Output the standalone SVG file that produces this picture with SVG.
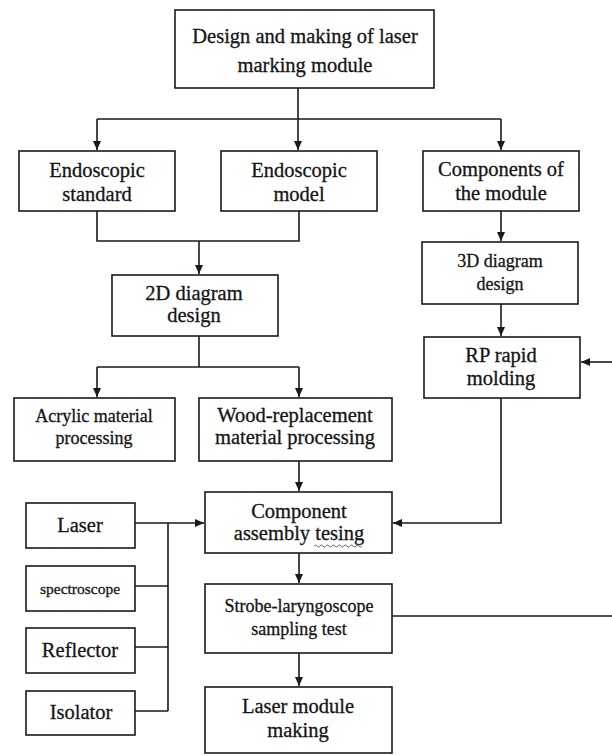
<svg xmlns="http://www.w3.org/2000/svg" width="612" height="755" viewBox="0 0 612 755">
  <style>
    .box { fill: #ffffff; stroke: #1a1a1a; stroke-width: 1.6; }
    .lbl { font-family: "Liberation Serif", "Times New Roman", serif; font-size: 20.5px; fill: #151515; stroke: #151515; stroke-width: 0.3; text-anchor: middle; }
    .s18 { font-size: 18px; }
    .s16 { font-size: 15.5px; }
    .wire { fill: none; stroke: #1a1a1a; stroke-width: 1.6; }
    .squiggle { fill: none; stroke: #555555; stroke-width: 0.9; }
  </style>
  <defs>
    <marker id="arrow" markerUnits="userSpaceOnUse" markerWidth="9" markerHeight="8" refX="9" refY="4" orient="auto">
      <path d="M0,0 L9,4 L0,8 z" fill="#1a1a1a"/>
    </marker>
  </defs>

  <rect x="0" y="0" width="612" height="755" fill="#ffffff"/>

  <!-- connectors -->
  <g id="connectors">
    <path class="wire" d="M298,88 V119 M97,119 H501"/>
    <path class="wire" d="M97,119 V150" marker-end="url(#arrow)"/>
    <path class="wire" d="M298,119 V150" marker-end="url(#arrow)"/>
    <path class="wire" d="M501,119 V150" marker-end="url(#arrow)"/>

    <path class="wire" d="M97,211 V241 H299 V211"/>
    <path class="wire" d="M199,241 V274" marker-end="url(#arrow)"/>

    <path class="wire" d="M501,211 V241" marker-end="url(#arrow)"/>
    <path class="wire" d="M501,304 V336" marker-end="url(#arrow)"/>
    <path class="wire" d="M612,362 H581" marker-end="url(#arrow)"/>

    <path class="wire" d="M199,336 V367 M97,367 H299"/>
    <path class="wire" d="M97,367 V397" marker-end="url(#arrow)"/>
    <path class="wire" d="M299,367 V397" marker-end="url(#arrow)"/>

    <path class="wire" d="M299,461 V491" marker-end="url(#arrow)"/>
    <path class="wire" d="M501,398 V523 H393" marker-end="url(#arrow)"/>

    <path class="wire" d="M135,523 H204" marker-end="url(#arrow)"/>
    <path class="wire" d="M168,523 V711 M135,586 H168 M135,647 H168 M135,711 H168"/>

    <path class="wire" d="M299,553 V583" marker-end="url(#arrow)"/>
    <path class="wire" d="M392,616 H612"/>
    <path class="wire" d="M299,653 V686" marker-end="url(#arrow)"/>
  </g>

  <!-- nodes -->
  <g id="design-making">
    <rect class="box" x="175" y="10" width="259" height="78"/>
    <text class="lbl" x="305" y="43">Design and making of laser</text>
    <text class="lbl" x="305" y="72">marking module</text>
  </g>

  <g id="endoscopic-standard">
    <rect class="box" x="19" y="151" width="156" height="60"/>
    <text class="lbl" x="97" y="177">Endoscopic</text>
    <text class="lbl" x="97" y="201">standard</text>
  </g>

  <g id="endoscopic-model">
    <rect class="box" x="221" y="151" width="156" height="60"/>
    <text class="lbl" x="299" y="177">Endoscopic</text>
    <text class="lbl" x="299" y="201">model</text>
  </g>

  <g id="module-components">
    <rect class="box" x="423" y="151" width="156" height="60"/>
    <text class="lbl" x="501" y="176">Components of</text>
    <text class="lbl" x="501" y="200">the module</text>
  </g>

  <g id="diagram-3d">
    <rect class="box" x="422" y="242" width="156" height="62"/>
    <text class="lbl s18" x="500" y="267">3D diagram</text>
    <text class="lbl s18" x="500" y="290">design</text>
  </g>

  <g id="diagram-2d">
    <rect class="box" x="112" y="275" width="166" height="61"/>
    <text class="lbl" x="194" y="300">2D diagram</text>
    <text class="lbl" x="194" y="322">design</text>
  </g>

  <g id="rp-molding">
    <rect class="box" x="424" y="337" width="156" height="61"/>
    <text class="lbl" x="501" y="362">RP rapid</text>
    <text class="lbl" x="501" y="385">molding</text>
  </g>

  <g id="acrylic-processing">
    <rect class="box" x="14" y="398" width="161" height="63"/>
    <text class="lbl s18" x="94" y="422">Acrylic material</text>
    <text class="lbl s18" x="94" y="444">processing</text>
  </g>

  <g id="wood-processing">
    <rect class="box" x="199" y="398" width="193" height="63"/>
    <text class="lbl" x="295" y="422">Wood-replacement</text>
    <text class="lbl" x="295" y="444">material processing</text>
  </g>

  <g id="assembly-testing">
    <rect class="box" x="205" y="492" width="187" height="61"/>
    <text class="lbl" x="299" y="518">Component</text>
    <text class="lbl" x="299" y="540">assembly tesing</text>
    <path class="squiggle" d="M314,546 q1.5,-2 3,0 t3,0 t3,0 t3,0 t3,0 t3,0 t3,0 t3,0 t3,0 t3,0 t3,0 t3,0 t3,0 t3,0 t3,0 t3,0"/>
  </g>

  <g id="laser">
    <rect class="box" x="26" y="503" width="109" height="45"/>
    <text class="lbl" x="80" y="532">Laser</text>
  </g>

  <g id="spectroscope">
    <rect class="box" x="26" y="566" width="109" height="45"/>
    <text class="lbl s16" x="80" y="594">spectroscope</text>
  </g>

  <g id="reflector">
    <rect class="box" x="26" y="628" width="109" height="45"/>
    <text class="lbl" x="80" y="657">Reflector</text>
  </g>

  <g id="isolator">
    <rect class="box" x="26" y="691" width="109" height="44"/>
    <text class="lbl" x="81" y="719">Isolator</text>
  </g>

  <g id="strobe-test">
    <rect class="box" x="205" y="584" width="187" height="69"/>
    <text class="lbl s18" x="299" y="612">Strobe-laryngoscope</text>
    <text class="lbl s18" x="299" y="635">sampling test</text>
  </g>

  <g id="laser-module-making">
    <rect class="box" x="205" y="687" width="187" height="66"/>
    <text class="lbl" x="298" y="713">Laser module</text>
    <text class="lbl" x="298" y="737">making</text>
  </g>
</svg>
